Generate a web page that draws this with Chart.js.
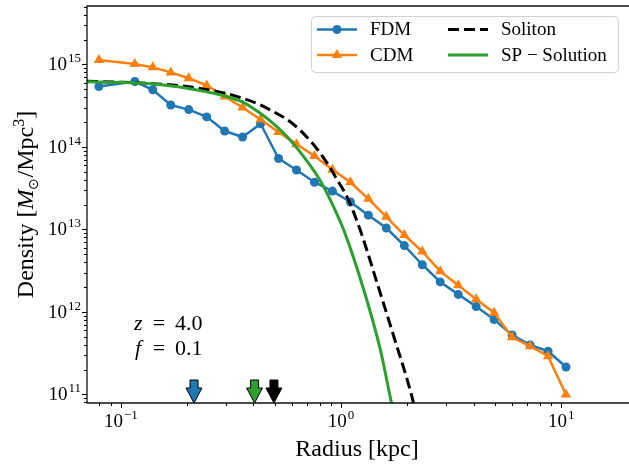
<!DOCTYPE html>
<html>
<head>
<meta charset="utf-8">
<script src="https://cdn.jsdelivr.net/npm/chart.js@4.4.1/dist/chart.umd.min.js"></script>
<style>
  html, body { margin: 0; padding: 0; background: #fff; }
  #wrap { width: 629px; height: 468px; }
</style>
</head>
<body>
<div id="wrap"><canvas id="densityChart" width="629" height="468"></canvas></div>
<script>
// radial bins shared by the two simulation profiles [kpc]
const radius = [0.0795, 0.1158, 0.1397, 0.1686, 0.2034, 0.2455, 0.2962, 0.3574, 0.4313, 0.5205,
  0.6281, 0.7579, 0.9147, 1.104, 1.332, 1.607, 1.940, 2.341, 2.824, 3.408,
  4.113, 4.963, 5.989, 7.227, 8.721, 10.52];
const fdmDensity = [5.40e14, 6.2e14, 4.92e14, 3.22e14, 2.83e14, 2.31e14, 1.556e14, 1.318e14, 1.905e14, 7.24e13,
  5.25e13, 3.73e13, 2.91e13, 2.15e13, 1.487e13, 1.04e13, 6.37e12, 3.73e12, 2.31e12, 1.63e12,
  1.16e12, 8.09e11, 5.25e11, 3.98e11, 3.34e11, 2.15e11];
const cdmDensity = [1.127e15, 1.01e15, 9.2e14, 8.0e14, 6.8e14, 5.55e14, 4.09e14, 3.0e14, 2.15e14, 1.51e14,
  1.08e14, 7.77e13, 5.30e13, 3.73e13, 2.35e13, 1.42e13, 8.55e12, 5.40e12, 3.10e12, 2.11e12,
  1.42e12, 9.8e11, 4.92e11, 3.84e11, 2.91e11, 1.0e11];

const solitonRadius = [0.0702, 0.10, 0.14, 0.20, 0.2825, 0.3475, 0.428, 0.468, 0.596, 0.733,
  0.871, 0.966, 1.072, 1.23, 1.462, 1.739, 2.10, 2.2];
const solitonDensity = [6.25e14, 6.08e14, 5.84e14, 5.4e14, 4.6e14, 3.98e14, 3.25e14, 2.88e14, 1.96e14, 1.15e14,
  6.2e13, 3.9e13, 2.4e13, 9.4e12, 2.2e12, 5.0e11, 9.4e10, 5.5e10];

const spRadius = [0.0702, 0.1416, 0.200, 0.2825, 0.360, 0.428, 0.468, 0.575, 0.708, 0.813,
  0.934, 1.036, 1.274, 1.513, 1.696, 1.75];
const spDensity = [6.17e14, 5.8e14, 5.15e14, 4.28e14, 3.47e14, 2.58e14, 2.15e14, 1.29e14, 6.49e13, 3.73e13,
  1.79e13, 9.4e12, 1.79e12, 3.40e11, 7.9e10, 5.5e10];

// core radius markers (arrows on the x axis)
const coreRadii = [0.215, 0.405, 0.496];
const coreColors = ['#1f77b4', '#2ca02c', '#000000'];

const xTickExponents = [-1, 0, 1];
const yTickExponents = [11, 12, 13, 14, 15];

const serif = "'Liberation Serif', 'Times New Roman', serif";
const toPoints = (xs, ys) => xs.map((x, i) => ({ x: x, y: ys[i] }));

function minorTicks(min, max) {
  const out = [];
  for (let d = Math.floor(Math.log10(min)); d <= Math.ceil(Math.log10(max)); d++) {
    for (let m = 2; m <= 9; m++) {
      const v = m * Math.pow(10, d);
      if (v >= min && v <= max) out.push(v);
    }
  }
  return out;
}

function drawPow(ctx, exp, x, y, align) {
  const base = '10';
  const sup = exp < 0 ? '\u2212' + (-exp) : String(exp);
  ctx.font = '19px ' + serif;
  const bw = ctx.measureText(base).width;
  ctx.font = '13px ' + serif;
  const sw = ctx.measureText(sup).width;
  const total = bw + sw + 1;
  const left = align === 'center' ? x - total / 2 : x - total;
  ctx.textAlign = 'left';
  ctx.textBaseline = 'alphabetic';
  ctx.font = '19px ' + serif;
  ctx.fillText(base, left, y);
  ctx.font = '13px ' + serif;
  ctx.fillText(sup, left + bw + 1, y - 8);
}

function drawPieces(ctx, pieces, x, y) {
  let w = 0;
  pieces.forEach(p => { ctx.font = p.font; w += ctx.measureText(p.t).width; });
  let cx = x - w / 2;
  pieces.forEach(p => {
    ctx.font = p.font;
    ctx.fillText(p.t, cx, y + (p.dy || 0));
    cx += ctx.measureText(p.t).width;
  });
}

function drawMarker(ctx, style, x, y, r) {
  ctx.beginPath();
  if (style === 'circle') {
    ctx.arc(x, y, r, 0, Math.PI * 2);
  } else {
    ctx.moveTo(x, y - r);
    ctx.lineTo(x + r * 0.866, y + r * 0.5);
    ctx.lineTo(x - r * 0.866, y + r * 0.5);
    ctx.closePath();
  }
  ctx.fill();
}

const decor = {
  id: 'decor',
  afterDatasetsDraw(chart) {
    const { ctx, chartArea: a, scales: { x } } = chart;
    ctx.save();
    coreRadii.forEach((r, i) => {
      const px = x.getPixelForValue(r);
      const b = a.bottom;
      ctx.beginPath();
      ctx.moveTo(px - 4, b - 23);
      ctx.lineTo(px + 4, b - 23);
      ctx.lineTo(px + 4, b - 15);
      ctx.lineTo(px + 8, b - 15);
      ctx.lineTo(px, b);
      ctx.lineTo(px - 8, b - 15);
      ctx.lineTo(px - 4, b - 15);
      ctx.closePath();
      ctx.fillStyle = coreColors[i];
      ctx.fill();
      ctx.lineWidth = 1;
      ctx.strokeStyle = '#000';
      ctx.stroke();
    });
    ctx.restore();
  },
  afterDraw(chart) {
    const { ctx, chartArea: a, scales: { x, y } } = chart;
    ctx.save();
    ctx.fillStyle = '#000';
    ctx.strokeStyle = '#000';

    // ticks
    ctx.lineWidth = 1;
    const xt = (v, len) => {
      const p = Math.round(x.getPixelForValue(v)) + 0.5;
      ctx.beginPath(); ctx.moveTo(p, a.bottom); ctx.lineTo(p, a.bottom + len); ctx.stroke();
    };
    const yt = (v, len) => {
      const p = Math.round(y.getPixelForValue(v)) + 0.5;
      ctx.beginPath(); ctx.moveTo(a.left, p); ctx.lineTo(a.left - len, p); ctx.stroke();
    };
    xTickExponents.forEach(e => xt(Math.pow(10, e), 5));
    minorTicks(x.min, x.max).forEach(v => xt(v, 3));
    yTickExponents.forEach(e => yt(Math.pow(10, e), 5));
    minorTicks(y.min, y.max).forEach(v => yt(v, 3));

    // spines (right one falls outside the picture)
    ctx.lineWidth = 1.3;
    ctx.strokeStyle = '#111';
    ctx.beginPath();
    ctx.moveTo(chart.width, a.top);
    ctx.lineTo(a.left, a.top);
    ctx.lineTo(a.left, a.bottom);
    ctx.lineTo(chart.width, a.bottom);
    ctx.stroke();

    // tick labels
    ctx.fillStyle = '#000';
    xTickExponents.forEach(e => drawPow(ctx, e, x.getPixelForValue(Math.pow(10, e)), a.bottom + 24, 'center'));
    yTickExponents.forEach(e => drawPow(ctx, e, a.left - 6, y.getPixelForValue(Math.pow(10, e)) + 6, 'right'));

    // axis titles
    ctx.textAlign = 'left';
    ctx.textBaseline = 'alphabetic';
    drawPieces(ctx, [{ t: 'Radius [kpc]', font: '24px ' + serif }], 357, 456);
    ctx.save();
    ctx.translate(33, (a.top + a.bottom) / 2);
    ctx.rotate(-Math.PI / 2);
    drawPieces(ctx, [
      { t: 'Density [', font: '24px ' + serif },
      { t: 'M', font: 'italic 24px ' + serif },
      { t: '\u2299', font: '14px ' + serif, dy: 5 },
      { t: '/Mpc', font: '24px ' + serif },
      { t: '3', font: '16px ' + serif, dy: -9 },
      { t: ']', font: '24px ' + serif }
    ], 0, 0);
    ctx.restore();

    // annotation
    ctx.font = 'italic 22px ' + serif;
    ctx.fillText('z', 134, 330);
    ctx.fillText('f', 135, 355);
    ctx.font = '22px ' + serif;
    ctx.textAlign = 'center';
    ctx.fillText('=', 159, 330);
    ctx.fillText('=', 159, 355);
    ctx.textAlign = 'left';
    ctx.fillText('4.0', 175, 330);
    ctx.fillText('0.1', 175, 355);

    // legend (two columns)
    const lx = a.right - 312, ly = a.top + 10, lw = 307, lh = 56;
    ctx.beginPath();
    ctx.roundRect(lx + 0.5, ly + 0.5, lw, lh, 4);
    ctx.fillStyle = 'rgba(255,255,255,0.85)';
    ctx.fill();
    ctx.lineWidth = 1;
    ctx.strokeStyle = '#d0d0d0';
    ctx.stroke();
    const cols = [lx + 6, lx + 137];
    const rows = [ly + 13.5, ly + 39];
    const slots = [[0, 0], [0, 1], [1, 0], [1, 1]];
    chart.data.datasets.forEach((ds, i) => {
      const cx = cols[slots[i][0]], cy = rows[slots[i][1]];
      ctx.save();
      ctx.strokeStyle = ds.borderColor;
      ctx.lineWidth = ds.borderWidth;
      ctx.setLineDash(ds.borderDash || []);
      ctx.beginPath();
      ctx.moveTo(cx, cy);
      ctx.lineTo(cx + 40, cy);
      ctx.stroke();
      ctx.restore();
      if (ds.pointRadius > 0) {
        ctx.fillStyle = ds.borderColor;
        drawMarker(ctx, ds.pointStyle, cx + 20, cy, ds.pointRadius);
      }
      ctx.fillStyle = '#000';
      ctx.font = '19px ' + serif;
      ctx.textAlign = 'left';
      ctx.textBaseline = 'middle';
      ctx.fillText(ds.label, cx + 53, cy + 1);
    });
    ctx.restore();
  }
};

new Chart(document.getElementById('densityChart'), {
  type: 'line',
  data: {
    datasets: [
      {
        label: 'FDM',
        data: toPoints(radius, fdmDensity),
        borderColor: '#1f77b4',
        backgroundColor: '#1f77b4',
        borderWidth: 2.5,
        pointStyle: 'circle',
        pointRadius: 4.5,
        pointBorderWidth: 0,
        order: 4
      },
      {
        label: 'CDM',
        data: toPoints(radius, cdmDensity),
        borderColor: '#ff7f0e',
        backgroundColor: '#ff7f0e',
        borderWidth: 2.5,
        pointStyle: 'triangle',
        pointRadius: 6,
        pointBorderWidth: 0,
        order: 3
      },
      {
        label: 'Soliton',
        data: toPoints(solitonRadius, solitonDensity),
        borderColor: '#000000',
        borderWidth: 3,
        borderDash: [11, 5],
        pointRadius: 0,
        cubicInterpolationMode: 'monotone',
        order: 2
      },
      {
        label: 'SP \u2212 Solution',
        data: toPoints(spRadius, spDensity),
        borderColor: '#2ca02c',
        borderWidth: 3,
        pointRadius: 0,
        cubicInterpolationMode: 'monotone',
        order: 1
      }
    ]
  },
  options: {
    responsive: false,
    animation: false,
    events: [],
    layout: { padding: { left: 87, top: 2, right: 1, bottom: 65 } },
    plugins: { legend: { display: false }, tooltip: { enabled: false } },
    scales: {
      x: { type: 'logarithmic', display: false, bounds: 'data', min: 0.0702, max: 19.1 },
      y: { type: 'logarithmic', display: false, bounds: 'data', min: 7.87e10, max: 5.1e15 }
    }
  },
  plugins: [decor]
});
</script>
</body>
</html>
